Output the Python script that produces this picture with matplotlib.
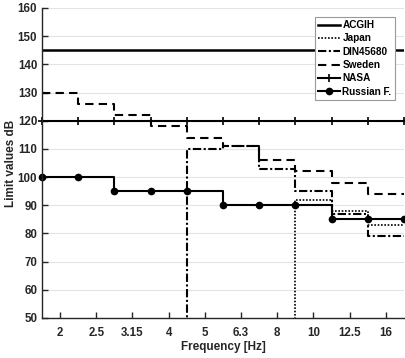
import numpy as np
import matplotlib
matplotlib.use("Agg")
import matplotlib.pyplot as plt

# ---- data ----
band_index = np.arange(11)
tick_pos = np.arange(10) + 0.5
tick_labels = ["2", "2.5", "3.15", "4", "5", "6.3", "8", "10", "12.5", "16"]

acgih = [145, 145, 145, 145, 145, 145, 145, 145, 145, 145, 145]
japan = [0, 0, 0, 0, 0, 0, 0, 92, 88, 83, 83]          # below range before 10 Hz band
din45680 = [0, 0, 0, 0, 110, 111, 103, 95, 87, 79, 79]  # below range before 5 Hz band
sweden = [130, 126, 122, 118, 114, 111, 106, 102, 98, 94, 94]
nasa = [120, 120, 120, 120, 120, 120, 120, 120, 120, 120, 120]
russian = [100, 100, 95, 95, 95, 90, 90, 90, 85, 85, 85]

plt.rcParams['font.family'] = ['Liberation Sans', 'DejaVu Sans']
plt.rcParams['font.weight'] = 'bold'

fig = plt.figure(figsize=(4.06, 3.58), dpi=100)
ax = fig.add_axes([42/406, 1-318/358, 362/406, 310/358])

lw = 1.5
ax.plot(band_index, acgih, color='black', lw=1.8, drawstyle='steps-post', label='ACGIH')
ax.plot(band_index, japan, color='black', lw=1.2, ls=(0, (1, 1)), drawstyle='steps-post', label='Japan')
ax.plot(band_index, din45680, color='black', lw=lw, ls=(0, (4, 1.2, 1, 1.2)), drawstyle='steps-post', label='DIN45680')
ax.plot(band_index, sweden, color='black', lw=lw, ls=(0, (4, 2.5)), drawstyle='steps-post', label='Sweden')
ax.plot(band_index, nasa, color='black', lw=lw, marker='+', ms=6, mew=1.2, drawstyle='steps-post',
        label='NASA', clip_on=False)
ax.plot(band_index, russian, color='black', lw=lw, marker='o', ms=4.5, drawstyle='steps-post',
        label='Russian F.', clip_on=False)

ax.set_xlim(0, 10)
ax.set_ylim(50, 160)
ax.set_yticks(np.arange(50, 161, 10))
ax.set_xticks(tick_pos)
ax.set_xticklabels(tick_labels)

ax.yaxis.grid(True, color='#e3e3e3', lw=0.8)
ax.set_axisbelow(True)
for s in ['top', 'right']:
    ax.spines[s].set_visible(False)
for s in ['left', 'bottom']:
    ax.spines[s].set_color('#262626')
    ax.spines[s].set_linewidth(1.0)
ax.tick_params(direction='in', length=4, width=1.0, colors='#262626', labelsize=8.3)
ax.tick_params(axis='y', pad=3.5)
ax.tick_params(axis='x', pad=6.5)
for lab in ax.get_xticklabels() + ax.get_yticklabels():
    lab.set_fontweight('bold')
    lab.set_color('#262626')

ax.set_xlabel('Frequency [Hz]', fontsize=8.5, fontweight='bold', color='#262626')
ax.set_ylabel('Limit values dB', fontsize=8.5, fontweight='bold', color='#262626')
ax.xaxis.set_label_coords(0.5, -0.075, transform=ax.transAxes)
ax.yaxis.set_label_coords(-0.07, 0.5, transform=ax.transAxes)

leg = ax.legend(loc='upper right', bbox_to_anchor=(0.975, 0.972), borderaxespad=0,
                fontsize=7.2, frameon=True, fancybox=False, framealpha=1,
                edgecolor='#999999', handlelength=2.2, handletextpad=0.2,
                labelspacing=0.33, borderpad=0.35)
leg.get_frame().set_linewidth(0.8)
for t in leg.get_texts():
    t.set_fontweight('bold')

fig.savefig('out.png', dpi=100)
